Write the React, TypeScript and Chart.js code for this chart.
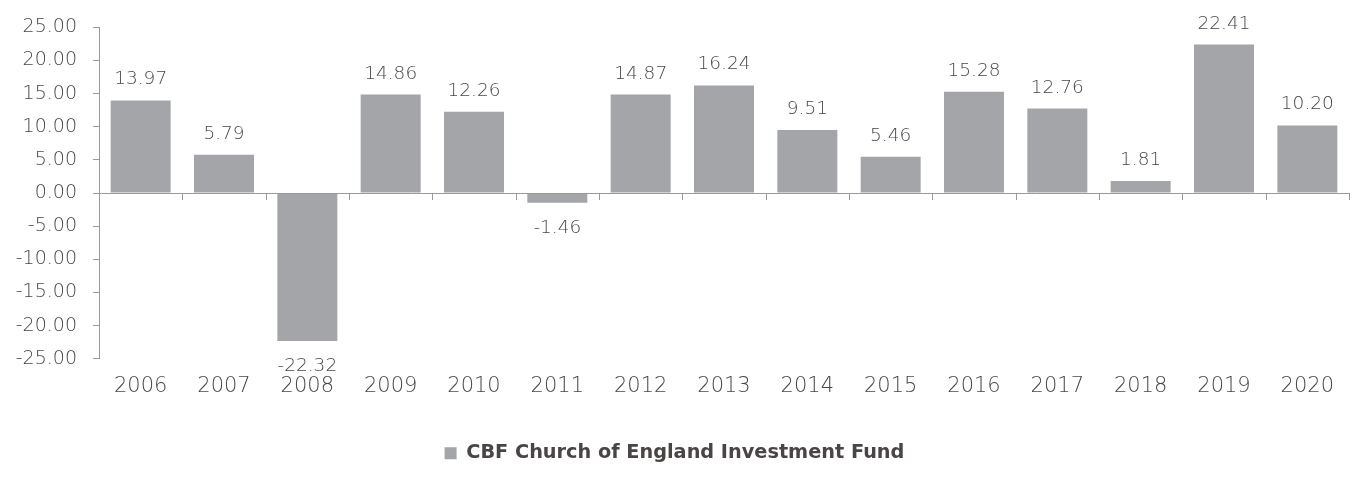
import React, { useEffect, useRef } from "react";
import { Chart, registerables } from "chart.js";

Chart.register(...registerables);

const categories = ["2006", "2007", "2008", "2009", "2010", "2011", "2012", "2013", "2014", "2015", "2016", "2017", "2018", "2019", "2020"];
const fundValues = [13.97, 5.79, -22.32, 14.86, 12.26, -1.46, 14.87, 16.24, 9.51, 5.46, 15.28, 12.76, 1.81, 22.41, 10.2];
const seriesName = "CBF Church of England Investment Fund";
const yMin = -25;
const yMax = 25;
const yStep = 5;

const FONT = "'DejaVu Sans', sans-serif";
const TEXT = "#474747";
const BAR = "#a3a5a9";
const AXIS = "#9a9a9a";

const zeroAxisPlugin = {
  id: "zeroAxis",
  afterDatasetsDraw(chart: any) {
    const { ctx, scales, chartArea } = chart;
    const y0 = Math.round(scales.y.getPixelForValue(0));
    const xs = scales.x;
    ctx.save();
    ctx.strokeStyle = AXIS;
    ctx.lineWidth = 1;
    ctx.beginPath();
    ctx.moveTo(chartArea.left, y0 + 0.5);
    ctx.lineTo(chartArea.right, y0 + 0.5);
    const n = categories.length;
    for (let i = 1; i <= n; i++) {
      const a = xs.getPixelForValue(i - 1);
      const b = i < n ? xs.getPixelForValue(i) : a + (a - xs.getPixelForValue(i - 2));
      const x = Math.round((a + b) / 2) + 0.5;
      ctx.moveTo(x, y0);
      ctx.lineTo(x, y0 + 7);
    }
    ctx.stroke();
    ctx.restore();
  },
};

const valueLabelPlugin = {
  id: "valueLabels",
  afterDatasetsDraw(chart: any) {
    const { ctx } = chart;
    const meta = chart.getDatasetMeta(0);
    ctx.save();
    ctx.fillStyle = TEXT;
    ctx.font = `200 18.5px ${FONT}`;
    ctx.textAlign = "center";
    ctx.textBaseline = "alphabetic";
    meta.data.forEach((bar: any, i: number) => {
      const v = fundValues[i];
      const txt = v.toFixed(2);
      if (v >= 0) {
        ctx.fillText(txt, bar.x, bar.y - 16);
      } else {
        ctx.fillText(txt, bar.x, bar.y + 30);
      }
    });
    ctx.restore();
  },
};

export default function App() {
  const ref = useRef<HTMLCanvasElement | null>(null);
  useEffect(() => {
    if (!ref.current) return;
    const chart = new Chart(ref.current, {
      type: "bar",
      data: {
        labels: categories,
        datasets: [
          {
            label: seriesName,
            data: fundValues,
            backgroundColor: BAR,
            borderWidth: 0,
            categoryPercentage: 1,
            barPercentage: 0.72,
          },
        ],
      },
      options: {
        animation: false,
        responsive: true,
        maintainAspectRatio: false,
        layout: { padding: { top: 22, right: 14, bottom: 20, left: 0 } },
        scales: {
          x: {
            grid: { display: false },
            border: { display: false },
            ticks: { color: TEXT, font: { family: FONT, size: 21, weight: "200" }, padding: 7, maxRotation: 0 },
            afterFit(scale: any) {
              scale.height = 75;
            },
          },
          y: {
            min: yMin,
            max: yMax,
            grid: { drawOnChartArea: false, color: AXIS, tickLength: 6 },
            border: { display: true, color: AXIS },
            ticks: {
              stepSize: yStep,
              color: TEXT,
              font: { family: FONT, size: 19, weight: "200" },
              padding: 16,
              callback: (v: any) => Number(v).toFixed(2),
            },
            afterFit(scale: any) {
              scale.width = 99;
            },
          },
        },
        plugins: {
          legend: {
            position: "bottom",
            labels: {
              color: "#4a4545",
              font: { family: FONT, size: 19.3, weight: "bold" },
              boxWidth: 12,
              boxHeight: 12,
              padding: 10,
            },
          },
          tooltip: { enabled: false },
        },
      },
      plugins: [zeroAxisPlugin, valueLabelPlugin],
    });
    return () => chart.destroy();
  }, []);
  return (
    <div style={{ position: "fixed", left: 0, top: 0, width: 1363, height: 493, background: "#fff" }}>
      <canvas ref={ref} />
    </div>
  );
}
